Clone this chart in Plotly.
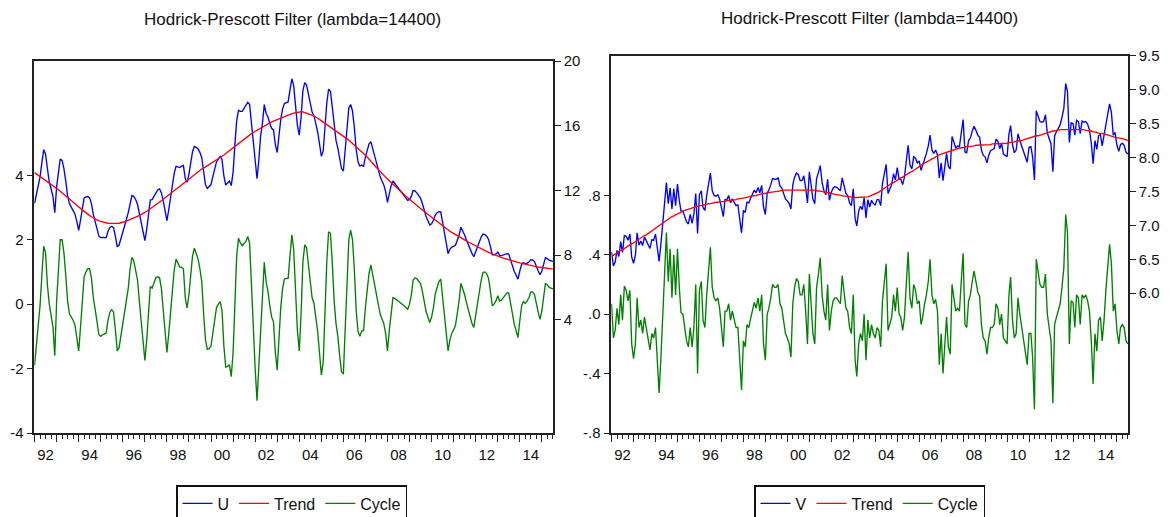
import pandas as pd
import plotly.graph_objects as go

START = "1992-01-01"

# ---- Left panel: U decomposed by the HP filter ----
U_TREND = [
    13.10, 13.02, 12.95, 12.87, 12.80, 12.72, 12.64, 12.57, 12.49, 12.40,
    12.31, 12.22, 12.13, 12.04, 11.94, 11.85, 11.76, 11.67, 11.58, 11.48,
    11.38, 11.28, 11.18, 11.08, 10.98, 10.88, 10.78, 10.69, 10.60, 10.52,
    10.44, 10.37, 10.30, 10.23, 10.17, 10.12, 10.08, 10.04, 10.01, 9.98,
    9.97, 9.96, 9.95, 9.95, 9.95, 9.96, 9.97, 9.99, 10.02, 10.06,
    10.10, 10.14, 10.18, 10.23, 10.28, 10.34, 10.39, 10.44, 10.50, 10.57,
    10.64, 10.71, 10.78, 10.86, 10.93, 11.00, 11.09, 11.18, 11.27, 11.36,
    11.45, 11.54, 11.63, 11.72, 11.81, 11.90, 11.99, 12.08, 12.17, 12.26,
    12.35, 12.44, 12.53, 12.62, 12.71, 12.80, 12.89, 12.98, 13.07, 13.16,
    13.25, 13.32, 13.38, 13.45, 13.52, 13.59, 13.66, 13.72, 13.79, 13.86,
    13.93, 14.02, 14.11, 14.19, 14.28, 14.37, 14.46, 14.55, 14.63, 14.72,
    14.81, 14.90, 14.99, 15.07, 15.16, 15.25, 15.34, 15.42, 15.51, 15.58,
    15.65, 15.72, 15.79, 15.86, 15.93, 16.00, 16.07, 16.14, 16.19, 16.24,
    16.29, 16.34, 16.39, 16.44, 16.49, 16.54, 16.59, 16.63, 16.67, 16.71,
    16.75, 16.78, 16.81, 16.84, 16.86, 16.86, 16.85, 16.82, 16.78, 16.74,
    16.69, 16.65, 16.60, 16.53, 16.46, 16.39, 16.31, 16.24, 16.16, 16.09,
    16.01, 15.93, 15.85, 15.77, 15.69, 15.61, 15.53, 15.45, 15.37, 15.29,
    15.21, 15.11, 15.01, 14.91, 14.81, 14.71, 14.60, 14.50, 14.40, 14.29,
    14.17, 14.05, 13.92, 13.80, 13.67, 13.55, 13.42, 13.30, 13.17, 13.05,
    12.94, 12.83, 12.71, 12.60, 12.49, 12.38, 12.26, 12.15, 12.04, 11.94,
    11.84, 11.74, 11.64, 11.54, 11.44, 11.34, 11.24, 11.15, 11.06, 10.97,
    10.88, 10.79, 10.70, 10.61, 10.52, 10.43, 10.34, 10.25, 10.16, 10.07,
    9.98, 9.89, 9.80, 9.71, 9.62, 9.54, 9.47, 9.40, 9.34, 9.27,
    9.20, 9.13, 9.07, 9.00, 8.94, 8.88, 8.81, 8.75, 8.69, 8.62,
    8.56, 8.50, 8.43, 8.37, 8.32, 8.27, 8.22, 8.17, 8.12, 8.07,
    8.02, 7.97, 7.92, 7.88, 7.85, 7.81, 7.78, 7.74, 7.71, 7.67,
    7.64, 7.61, 7.58, 7.55, 7.52, 7.49, 7.46, 7.43, 7.40, 7.37,
    7.34, 7.32, 7.30, 7.28, 7.26, 7.25, 7.23, 7.21, 7.19, 7.18,
    7.16, 7.15, 7.13,
]

U_CYCLE = [
    -1.90, -1.30, -0.60, -0.05, 0.90, 1.80, 1.60, 0.60, 0.00, -0.30,
    -0.70, -1.60, 0.10, 1.10, 2.00, 2.00, 1.60, 0.90, 0.10, -0.30,
    -0.40, -0.50, -0.65, -1.00, -1.45, -0.70, 0.20, 0.85, 1.00, 1.10,
    1.10, 0.80, 0.20, -0.25, -0.55, -0.95, -1.00, -0.95, -0.92, -0.90,
    -0.50, -0.25, -0.17, -0.25, -0.80, -1.45, -1.35, -1.00, -0.70, -0.30,
    0.10, 0.50, 1.10, 1.45, 1.35, 1.10, 0.75, 0.10, -0.60, -1.15,
    -1.75, -1.10, -0.20, 0.55, 0.50, 0.65, 0.82, 0.85, 0.82, 0.50,
    -0.10, -0.85, -1.50, -0.90, -0.30, 0.40, 1.05, 1.40, 1.25, 1.15,
    1.15, 1.10, 0.20, -0.12, 0.30, 0.90, 1.50, 1.74, 1.60, 1.40,
    1.10, 0.70, -0.30, -1.10, -1.40, -1.38, -1.30, -0.85, -0.45, -0.10,
    0.00, 0.08, -0.20, -1.30, -1.95, -1.93, -1.88, -2.25, -1.50, 0.20,
    1.50, 2.05, 1.90, 1.82, 1.90, 1.95, 2.10, 1.90, 0.60, -0.80,
    -2.00, -3.00, -2.00, -0.50, 0.20, 1.30, 0.70, 0.40, -0.05, -0.40,
    -0.55, -1.50, -2.05, -0.95, -0.10, 0.50, 0.78, 0.80, 0.80, 1.50,
    2.15, 1.70, 0.30, -0.80, -1.45, -0.30, 1.30, 1.84, 1.75, 1.30,
    0.72, 0.20, 0.02, -0.40, -0.85, -1.50, -2.20, -1.80, -0.20, 1.30,
    2.25, 2.20, 1.30, 0.10, -0.60, -1.00, -1.60, -2.10, -2.17, -0.80,
    0.90, 2.00, 2.30, 2.00, 1.10, -0.20, -0.85, -1.00, -0.83, -0.82,
    -0.10, 0.50, 0.95, 1.22, 0.90, 0.60, 0.25, -0.05, -0.30, -0.45,
    -0.60, -0.90, -1.45, -0.80, -0.20, 0.20, 0.18, 0.14, 0.10, 0.06,
    0.00, -0.05, -0.10, -0.16, 0.00, 0.30, 0.75, 0.82, 0.79, 0.72,
    0.64, 0.40, 0.05, -0.22, -0.40, -0.57, -0.40, -0.10, 0.30, 0.55,
    0.70, 0.78, 0.25, -0.40, -1.00, -1.45, -1.10, -0.90, -0.80, -0.65,
    -0.30, 0.10, 0.65, 0.50, 0.30, 0.05, -0.20, -0.45, -0.60, -0.72,
    -0.35, 0.05, 0.40, 0.75, 0.98, 1.00, 0.95, 0.80, 0.40, -0.05,
    0.00, 0.10, 0.26, 0.10, 0.12, 0.20, 0.30, 0.35, 0.35, 0.00,
    -0.40, -0.62, -0.83, -1.04, -0.50, -0.05, 0.08, 0.02, 0.10, 0.20,
    0.38, 0.38, 0.30, 0.00, -0.25, -0.47, -0.20, 0.25, 0.65, 0.60,
    0.52, 0.50, 0.47,
]

# ---- Right panel: V decomposed by the HP filter ----
V_TREND = [
    6.54, 6.56, 6.57, 6.59, 6.61, 6.63, 6.64, 6.66, 6.68, 6.69,
    6.71, 6.73, 6.74, 6.76, 6.78, 6.80, 6.81, 6.83, 6.85, 6.86,
    6.88, 6.90, 6.92, 6.94, 6.96, 6.98, 7.00, 7.02, 7.04, 7.06,
    7.08, 7.10, 7.11, 7.13, 7.14, 7.16, 7.17, 7.18, 7.20, 7.21,
    7.22, 7.23, 7.24, 7.25, 7.25, 7.26, 7.27, 7.28, 7.29, 7.29,
    7.30, 7.31, 7.31, 7.32, 7.32, 7.33, 7.33, 7.34, 7.34, 7.35,
    7.35, 7.35, 7.36, 7.36, 7.37, 7.37, 7.37, 7.38, 7.38, 7.39,
    7.39, 7.40, 7.40, 7.41, 7.41, 7.42, 7.43, 7.43, 7.44, 7.44,
    7.45, 7.46, 7.46, 7.47, 7.47, 7.48, 7.48, 7.49, 7.49, 7.50,
    7.50, 7.50, 7.51, 7.51, 7.52, 7.52, 7.52, 7.52, 7.53, 7.53,
    7.53, 7.53, 7.53, 7.53, 7.53, 7.53, 7.53, 7.53, 7.52, 7.52,
    7.52, 7.52, 7.51, 7.51, 7.50, 7.50, 7.49, 7.49, 7.48, 7.48,
    7.47, 7.46, 7.46, 7.45, 7.45, 7.44, 7.44, 7.43, 7.43, 7.42,
    7.42, 7.42, 7.41, 7.41, 7.41, 7.41, 7.41, 7.41, 7.41, 7.42,
    7.42, 7.43, 7.44, 7.45, 7.46, 7.47, 7.49, 7.51, 7.53, 7.54,
    7.56, 7.58, 7.60, 7.62, 7.63, 7.65, 7.67, 7.68, 7.70, 7.71,
    7.73, 7.75, 7.76, 7.78, 7.79, 7.81, 7.83, 7.85, 7.86, 7.88,
    7.90, 7.92, 7.93, 7.95, 7.96, 7.98, 7.99, 8.01, 8.02, 8.04,
    8.05, 8.06, 8.07, 8.08, 8.09, 8.10, 8.11, 8.12, 8.12, 8.13,
    8.14, 8.14, 8.15, 8.15, 8.16, 8.16, 8.16, 8.17, 8.17, 8.18,
    8.18, 8.18, 8.18, 8.19, 8.19, 8.19, 8.19, 8.19, 8.20, 8.20,
    8.20, 8.20, 8.20, 8.21, 8.21, 8.21, 8.21, 8.22, 8.22, 8.23,
    8.23, 8.24, 8.24, 8.25, 8.25, 8.26, 8.27, 8.27, 8.28, 8.29,
    8.30, 8.31, 8.32, 8.32, 8.33, 8.34, 8.35, 8.36, 8.36, 8.37,
    8.38, 8.39, 8.39, 8.40, 8.40, 8.41, 8.41, 8.41, 8.42, 8.42,
    8.42, 8.42, 8.42, 8.42, 8.42, 8.42, 8.42, 8.41, 8.41, 8.40,
    8.40, 8.39, 8.39, 8.38, 8.38, 8.37, 8.36, 8.36, 8.35, 8.35,
    8.34, 8.33, 8.32, 8.32, 8.31, 8.30, 8.29, 8.29, 8.28, 8.28,
    8.27, 8.26, 8.25,
]

V_CYCLE = [
    0.07, -0.16, -0.11, 0.04, -0.07, 0.13, -0.04, 0.19, 0.16, 0.09,
    0.16, -0.20, -0.30, -0.20, 0.11, -0.09, -0.04, -0.13, -0.02, -0.09,
    -0.18, -0.24, -0.13, -0.16, -0.09, -0.31, -0.53, -0.29, 0.02, 0.29,
    0.55, 0.22, 0.44, 0.11, 0.40, 0.13, 0.44, 0.18, 0.01, 0.00,
    -0.09, -0.18, -0.22, -0.09, -0.22, -0.09, 0.20, -0.40, 0.16, 0.22,
    -0.04, -0.09, 0.13, 0.29, 0.45, 0.18, 0.11, 0.09, 0.11, 0.04,
    -0.09, -0.22, 0.02, 0.02, 0.07, -0.04, 0.02, -0.04, -0.09, -0.09,
    -0.29, -0.51, -0.18, -0.22, -0.07, -0.09, -0.03, 0.02, 0.08, 0.04,
    0.11, 0.02, 0.13, -0.20, -0.31, 0.00, 0.04, 0.11, 0.20, 0.18,
    0.18, 0.20, 0.07, 0.04, -0.04, -0.13, -0.16, -0.20, -0.29, 0.07,
    0.18, 0.24, 0.22, 0.13, 0.13, 0.20, 0.02, -0.20, 0.27, 0.09,
    -0.13, -0.20, 0.18, 0.27, 0.38, 0.13, 0.02, -0.04, 0.20, -0.11,
    0.02, 0.09, 0.11, 0.11, 0.09, 0.07, 0.26, 0.13, 0.04, 0.02,
    -0.09, -0.13, 0.13, -0.31, -0.42, -0.20, -0.13, -0.18, 0.00, -0.31,
    -0.04, -0.16, -0.07, -0.13, -0.16, -0.09, -0.11, -0.22, 0.09, 0.22,
    0.34, -0.11, -0.07, -0.02, 0.13, 0.02, 0.18, 0.00, -0.02, -0.11,
    -0.02, 0.22, 0.42, 0.11, 0.04, 0.20, 0.16, 0.07, 0.09, -0.07,
    -0.02, 0.07, 0.13, 0.22, 0.37, 0.13, 0.07, 0.10, 0.02, -0.34,
    -0.13, -0.40, -0.20, -0.02, -0.22, -0.27, 0.20, 0.11, 0.02, 0.04,
    0.02, 0.22, 0.41, -0.07, -0.09, 0.09, 0.13, 0.22, 0.29, 0.22,
    0.15, 0.12, -0.07, -0.16, -0.18, -0.27, -0.16, -0.09, -0.09, -0.07,
    0.07, 0.04, -0.07, 0.00, -0.16, -0.18, -0.20, 0.13, 0.25, -0.04,
    -0.16, -0.13, 0.11, 0.00, -0.09, -0.16, -0.27, -0.34, -0.13, -0.13,
    -0.29, -0.64, 0.37, 0.27, 0.20, 0.18, 0.18, 0.27, 0.00, -0.09,
    -0.18, -0.60, -0.07, -0.02, 0.02, 0.07, 0.18, 0.31, 0.67, 0.55,
    -0.20, 0.09, 0.08, -0.09, 0.13, 0.11, -0.07, 0.13, 0.11, 0.13,
    0.09, 0.02, -0.18, -0.47, -0.13, -0.25, -0.04, -0.02, -0.18, -0.04,
    0.16, 0.31, 0.47, 0.34, 0.02, 0.07, -0.11, -0.20, -0.09, -0.07,
    -0.09, -0.18, -0.20,
]

U_CYCLE_TICKS = [-4, -2, 0, 2, 4]
U_CYCLE_LABELS = ["-4", "-2", "0", "2", "4"]
U_LEVEL_TICKS = [4, 8, 12, 16, 20]
U_LEVEL_LABELS = ["4", "8", "12", "16", "20"]
V_CYCLE_TICKS = [-0.8, -0.4, 0.0, 0.4, 0.8]
V_CYCLE_LABELS = ["-.8", "-.4", ".0", ".4", ".8"]
V_LEVEL_TICKS = [6.0, 6.5, 7.0, 7.5, 8.0, 8.5, 9.0, 9.5]
V_LEVEL_LABELS = ["6.0", "6.5", "7.0", "7.5", "8.0", "8.5", "9.0", "9.5"]

TITLE = "Hodrick-Prescott Filter (lambda=14400)"

# ---- derived series (HP identity: series = trend + cycle) ----
nu = min(len(U_TREND), len(U_CYCLE))
nv = min(len(V_TREND), len(V_CYCLE))
dates_u = pd.date_range(START, periods=nu, freq="MS")
dates_v = pd.date_range(START, periods=nv, freq="MS")
U = [round(U_TREND[i] + U_CYCLE[i], 3) for i in range(nu)]
V = [round(V_TREND[i] + V_CYCLE[i], 3) for i in range(nv)]

BLUE, RED, GREEN = "#0000FF", "#FF0000", "#008000"
LW = 1.35
FONT = "Liberation Sans Narrow, Arial Narrow, Liberation Sans, Arial, sans-serif"
AXC = "#222222"
TXT = "#111111"

fig = go.Figure()
fig.add_trace(go.Scatter(x=dates_u, y=U, name="U", mode="lines",
                         line=dict(color=BLUE, width=LW), xaxis="x", yaxis="y2", legend="legend"))
fig.add_trace(go.Scatter(x=dates_u, y=U_TREND[:nu], name="Trend", mode="lines",
                         line=dict(color=RED, width=LW), xaxis="x", yaxis="y2", legend="legend"))
fig.add_trace(go.Scatter(x=dates_u, y=U_CYCLE[:nu], name="Cycle", mode="lines",
                         line=dict(color=GREEN, width=LW), xaxis="x", yaxis="y", legend="legend"))
fig.add_trace(go.Scatter(x=dates_v, y=V, name="V", mode="lines",
                         line=dict(color=BLUE, width=LW), xaxis="x2", yaxis="y4", legend="legend2"))
fig.add_trace(go.Scatter(x=dates_v, y=V_TREND[:nv], name="Trend", mode="lines",
                         line=dict(color=RED, width=LW), xaxis="x2", yaxis="y4", legend="legend2"))
fig.add_trace(go.Scatter(x=dates_v, y=V_CYCLE[:nv], name="Cycle", mode="lines",
                         line=dict(color=GREEN, width=LW), xaxis="x2", yaxis="y3", legend="legend2"))

W, H = 1170, 517
odd_alias = {f"{y % 100:02d}": "" for y in range(1991, 2017, 2)}

def xaxis_cfg(x0, x1, anchor):
    return dict(
        domain=[x0 / W, x1 / W], anchor=anchor, type="date",
        range=["1991-12-28", "2015-07-04"],
        tick0="1992-01-01", dtick="M12", tickformat="%y", ticklabelmode="period",
        labelalias=odd_alias,
        ticks="outside", ticklen=7, tickwidth=1.2, tickcolor=AXC,
        minor=dict(dtick="M3", tick0="1992-01-01", ticks="outside", ticklen=4,
                   tickwidth=1, tickcolor=AXC, showgrid=False),
        showline=True, linecolor=AXC, linewidth=1.5, mirror=True,
        showgrid=False, zeroline=False, automargin=False,
        tickfont=dict(family=FONT, size=15, color=TXT),
    )

def yaxis_cfg(top, bottom, anchor, rng, tv, tt, side="left", overlay=None):
    d = dict(
        domain=[1 - bottom / H, 1 - top / H], anchor=anchor, range=rng,
        tickmode="array", tickvals=tv, ticktext=tt, side=side,
        ticks="outside", ticklen=6, tickwidth=1.2, tickcolor=AXC,
        showline=True, linecolor=AXC, linewidth=1.5,
        showgrid=False, zeroline=False, automargin=False,
        tickfont=dict(family=FONT, size=15, color=TXT),
    )
    if overlay:
        d["overlaying"] = overlay
    return d

legend_common = dict(
    orientation="h", xanchor="left", yanchor="top",
    bordercolor=TXT, borderwidth=1.5, bgcolor="white",
    font=dict(family=FONT, size=16, color=TXT),
    itemwidth=30, tracegroupgap=0,
)

fig.update_layout(
    width=W, height=H,
    margin=dict(l=0, r=0, t=0, b=0, pad=0, autoexpand=False),
    paper_bgcolor="white", plot_bgcolor="white",
    showlegend=True,
    xaxis=xaxis_cfg(34.3, 553, "y"),
    yaxis=yaxis_cfg(61, 433, "x", [-4, 7.55], U_CYCLE_TICKS, U_CYCLE_LABELS),
    yaxis2=yaxis_cfg(61, 433, "x", [-3, 20], U_LEVEL_TICKS, U_LEVEL_LABELS,
                     side="right", overlay="y"),
    xaxis2=xaxis_cfg(611.3, 1128, "y3"),
    yaxis3=yaxis_cfg(55.7, 433, "x2", [-0.8, 1.74], V_CYCLE_TICKS, V_CYCLE_LABELS),
    yaxis4=yaxis_cfg(55.7, 433, "x2", [3.94, 9.5], V_LEVEL_TICKS, V_LEVEL_LABELS,
                     side="right", overlay="y3"),
    legend=dict(x=176 / W, y=1 - 485 / H, **legend_common),
    legend2=dict(x=754 / W, y=1 - 485 / H, **legend_common),
    annotations=[
        dict(text=TITLE, xref="paper", yref="paper", x=292 / W, y=1 - 20 / H,
             xanchor="center", yanchor="middle", showarrow=False,
             font=dict(family=FONT, size=17, color=TXT)),
        dict(text=TITLE, xref="paper", yref="paper", x=869 / W, y=1 - 18 / H,
             xanchor="center", yanchor="middle", showarrow=False,
             font=dict(family=FONT, size=17, color=TXT)),
    ],
)

fig.write_html(
    "out.html",
    config={"displayModeBar": False},
    post_script="document.body.style.margin='0px';document.body.style.overflow='hidden';",
)
